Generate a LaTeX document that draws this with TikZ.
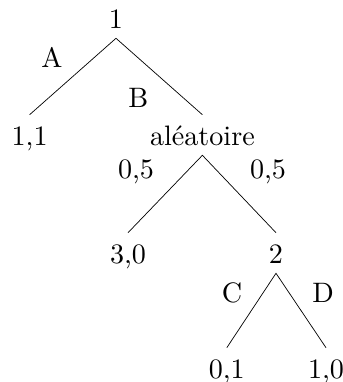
\documentclass[tikz,border=0pt]{standalone}
\usepackage{fontspec}
\setmainfont{lmroman10-regular.otf}
\begin{document}
\begin{tikzpicture}[
      noeud/.style={anchor=base, inner sep=0pt, text height=0.75cm, text depth=0.25cm,
                    font=\fontsize{20}{24}\selectfont},
      etiq/.style={anchor=base, inner sep=0pt, font=\fontsize{20}{24}\selectfont},
      branche/.style={line width=0.5pt}
    ]
    \useasboundingbox (0,0) rectangle (8.575,-9.55);

    \node[noeud] (j1)   at (2.90,-0.70)  {1};
    \node[noeud] (g11)  at (0.74,-3.625) {1,1};
    \node[noeud] (alea) at (5.06,-3.625) {aléatoire};
    \node[noeud] (g30)  at (3.20,-6.575) {3,0};
    \node[noeud] (j2)   at (6.90,-6.575) {2};
    \node[noeud] (g01)  at (5.67,-9.45)  {0,1};
    \node[noeud] (g10)  at (8.15,-9.45)  {1,0};

    \node[etiq] (lA)  at (1.30,-1.675) {A};
    \node[etiq] (lB)  at (3.46,-2.675) {B};
    \node[etiq] (p1)  at (3.40,-4.45)  {0,5};
    \node[etiq] (p2)  at (6.70,-4.45)  {0,5};
    \node[etiq] (lC)  at (5.80,-7.55)  {C};
    \node[etiq] (lD)  at (8.075,-7.55) {D};

    \draw[branche] (g11.north) -- (j1.south) -- (alea.north);
    \draw[branche] (g30.north) -- (alea.south) -- (j2.north);
    \draw[branche] (g01.north) -- (j2.south) -- (g10.north);
  \end{tikzpicture}
\end{document}
